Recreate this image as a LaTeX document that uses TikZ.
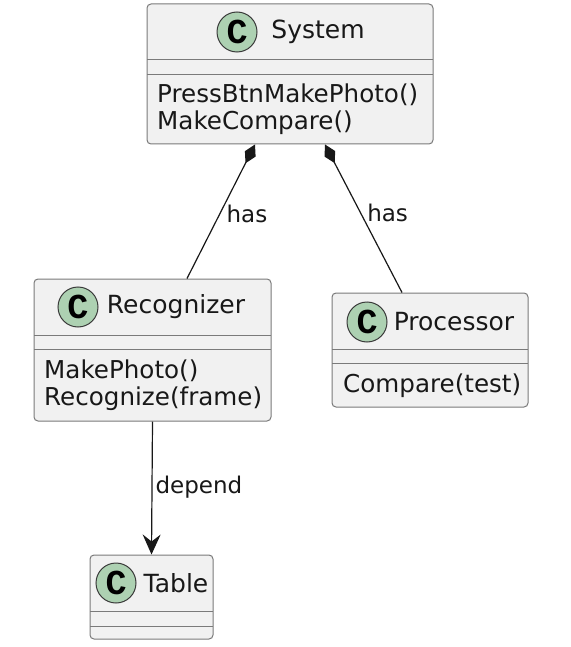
\documentclass[tikz,border=0pt]{standalone}
\usepackage{fontspec}
\setmainfont{DejaVu Sans}
\newfontfamily\cfont{Liberation Mono}
\usetikzlibrary{arrows.meta}
\definecolor{boxfill}{HTML}{F1F1F1}
\definecolor{boxborder}{HTML}{7A7A7A}
\definecolor{circfill}{HTML}{ADD1B2}
\definecolor{circborder}{HTML}{3A3A3A}
\definecolor{linecol}{HTML}{181818}
\begin{document}
\begin{tikzpicture}[x=1pt,y=-1pt,
  cls/.style={draw=boxborder, fill=boxfill, rounded corners=4pt, line width=1pt, inner sep=0pt},
  sepline/.style={draw=boxborder, line width=1pt},
  cc/.style={circle, draw=circborder, fill=circfill, minimum size=40pt, inner sep=0pt, line width=1pt, font=\cfont\bfseries\fontsize{35}{35}\selectfont},
  title/.style={font=\fontsize{25}{27}\selectfont, inner sep=0pt, text=linecol},
  meth/.style={font=\fontsize{24.6}{27}\selectfont, inner sep=0pt, anchor=west, align=left, text=linecol},
  lbl/.style={font=\fontsize{23}{25}\selectfont, inner sep=0pt, text=linecol},
  conn/.style={draw=linecol, line width=1.2pt},
  comp/.style={conn, {Diamond[length=21pt,width=12pt,fill=linecol]}-},
  dep/.style={conn, -{Stealth[length=20pt,width=18pt,inset=7pt,fill=linecol]}}
]
\useasboundingbox (0,0) rectangle (570,647);
\fill[white] (0,0) rectangle (570,647);

% System
\node[cls, minimum width=286pt, minimum height=140pt] (sys) at (290,74) {};
\draw[sepline] (147,60) -- (433,60);
\draw[sepline] (147,75) -- (433,75);
\node[cc] (sysc) at (237,32) {C};
\node[title] (syst) at (318,32) {System};
\node[meth] (sysm) at (157,109) {PressBtnMakePhoto()\\MakeCompare()};

% Recognizer
\node[cls, minimum width=237pt, minimum height=142pt] (rec) at (152.5,350) {};
\draw[sepline] (34,335) -- (271,335);
\draw[sepline] (34,349) -- (271,349);
\node[cc] (recc) at (78,307) {C};
\node[title] (rect) at (176,307) {Recognizer};
\node[meth] (recm) at (44,385) {MakePhoto()\\Recognize(frame)};

% Processor
\node[cls, minimum width=196pt, minimum height=114pt] (proc) at (430,350) {};
\draw[sepline] (332,349) -- (528,349);
\draw[sepline] (332,363) -- (528,363);
\node[cc] (procc) at (367,322) {C};
\node[title] (proct) at (454,322) {Processor};
\node[meth] (procm) at (343,386) {Compare(test)};

% Table
\node[cls, minimum width=123pt, minimum height=84pt] (tab) at (151.5,597) {};
\draw[sepline] (90,611) -- (213,611);
\draw[sepline] (90,626) -- (213,626);
\node[cc] (tabc) at (116,583) {C};
\node[title] (tabt) at (176,583) {Table};

% Connectors
\draw[comp] ([xshift=-35pt]sys.south) -- ([xshift=34.5pt]rec.north)
  node[lbl, pos=0.515, anchor=west, xshift=6pt] {has};
\draw[comp] ([xshift=35pt]sys.south) -- ([xshift=-28pt]proc.north)
  node[lbl, pos=0.463, anchor=west, xshift=6pt] {has};
\draw[dep] (rec.south) -- (tab.north)
  node[lbl, pos=0.49, anchor=west, xshift=3pt] {depend};
\end{tikzpicture}
\end{document}
